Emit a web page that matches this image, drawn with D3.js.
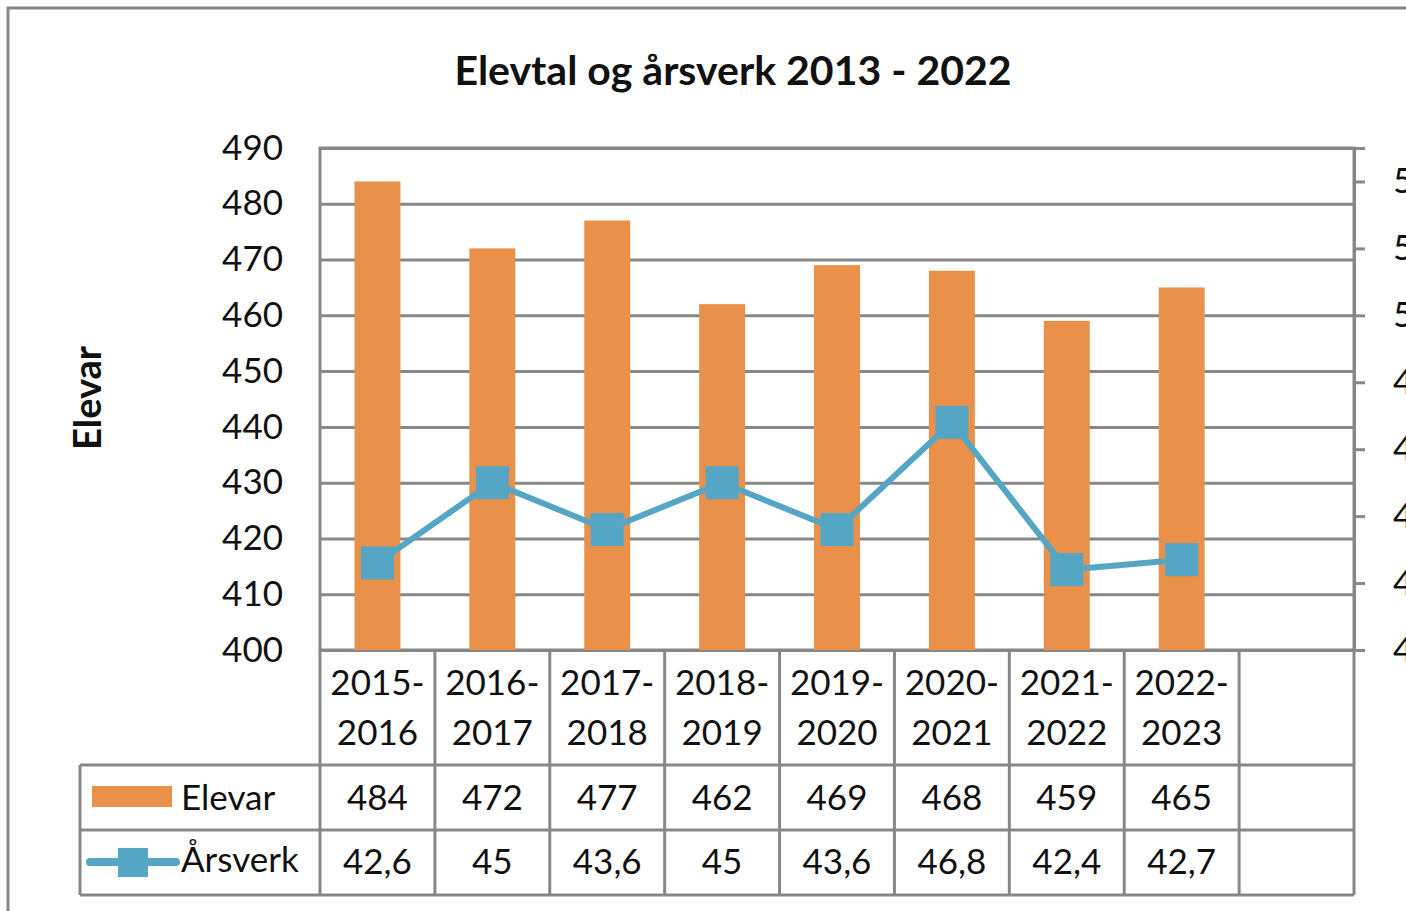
<!DOCTYPE html>
<html lang="nn">
<head>
<meta charset="UTF-8">
<title>Elevtal og årsverk 2013 - 2022</title>
<script src="https://cdn.jsdelivr.net/npm/d3@7"></script>
<style>
  html, body { margin: 0; padding: 0; background: #fff; overflow: hidden; }
  svg { display: block; font-family: Lato, "Open Sans", sans-serif; }
</style>
</head>
<body>
<script>
// chart data
const categories = ["2015-\n2016", "2016-\n2017", "2017-\n2018", "2018-\n2019", "2019-\n2020", "2020-\n2021", "2021-\n2022", "2022-\n2023", ""];
const elevar = [484, 472, 477, 462, 469, 468, 459, 465];
const arsverk = [42.6, 45, 43.6, 45, 43.6, 46.8, 42.4, 42.7];
const leftTicks = [400, 410, 420, 430, 440, 450, 460, 470, 480, 490];
const rightTicks = [40, 42, 44, 46, 48, 50, 52, 54];

const w = 1406, h = 911;
const plotL = 320, plotR = 1354, plotT = 148, plotB = 650;
const grey = "#878787";
const orange = "#E9904A";
const blue = "#55A6C4";

const svg = d3.select("body").append("svg")
  .attr("width", w)
  .attr("height", h);

// outer chart border (runs off the right and bottom edge)
svg.append("path")
  .attr("d", `M8,${h + 10} V8 H${w + 10}`)
  .attr("fill", "none")
  .attr("stroke", grey)
  .attr("stroke-width", 3);

// title
svg.append("text")
  .attr("x", 733)
  .attr("y", 85)
  .attr("text-anchor", "middle")
  .attr("font-size", 41)
  .attr("font-weight", "bold")
  .attr("fill", "#111")
  .text("Elevtal og årsverk 2013 - 2022");

// scales
const x = d3.scaleBand()
  .domain(d3.range(categories.length))
  .range([plotL, plotR]);

const y = d3.scaleLinear()
  .domain([400, 490])
  .range([plotB, plotT]);

const y2 = d3.scaleLinear()
  .domain([40, 55])
  .range([plotB, plotT]);

// gridlines
svg.append("g")
  .attr("transform", `translate(${plotL},0)`)
  .call(d3.axisLeft(y).tickValues(leftTicks).tickSize(-(plotR - plotL)).tickFormat(""))
  .call(g => g.select(".domain").remove())
  .call(g => g.selectAll("line").attr("stroke", grey).attr("stroke-width", 3));

// plot area frame
svg.append("rect")
  .attr("x", plotL)
  .attr("y", plotT)
  .attr("width", plotR - plotL)
  .attr("height", plotB - plotT)
  .attr("fill", "none")
  .attr("stroke", grey)
  .attr("stroke-width", 3);

// left axis labels
svg.append("g")
  .attr("transform", `translate(${plotL},0)`)
  .call(d3.axisLeft(y).tickValues(leftTicks).tickSize(0).tickPadding(37))
  .call(g => g.select(".domain").remove())
  .call(g => g.selectAll("text")
    .attr("font-family", "Lato, sans-serif")
    .attr("font-size", 35)
    .attr("fill", "#111"));

// right axis (labels run off the edge, as in the original)
svg.append("g")
  .attr("transform", `translate(${plotR},0)`)
  .call(d3.axisRight(y2).tickValues(rightTicks).tickSize(11).tickPadding(28))
  .call(g => g.select(".domain").attr("stroke", grey).attr("stroke-width", 3))
  .call(g => g.selectAll("line").attr("stroke", grey).attr("stroke-width", 3))
  .call(g => g.selectAll("text")
    .attr("font-family", "Lato, sans-serif")
    .attr("font-size", 35)
    .attr("fill", "#111"));

// y axis title
svg.append("text")
  .attr("transform", `translate(101,398) rotate(-90)`)
  .attr("text-anchor", "middle")
  .attr("font-size", 38)
  .attr("font-weight", "bold")
  .attr("fill", "#111")
  .text("Elevar");

// bars
const barW = x.bandwidth() * 0.4;
svg.selectAll("rect.bar")
  .data(elevar)
  .enter()
  .append("rect")
  .attr("class", "bar")
  .attr("x", (d, i) => x(i) + (x.bandwidth() - barW) / 2)
  .attr("y", d => y(d))
  .attr("width", barW)
  .attr("height", d => plotB - y(d))
  .attr("fill", orange);

// line + markers
const cx = i => x(i) + x.bandwidth() / 2;
svg.append("path")
  .datum(arsverk)
  .attr("d", d3.line().x((d, i) => cx(i)).y(d => y2(d)))
  .attr("fill", "none")
  .attr("stroke", blue)
  .attr("stroke-width", 6)
  .attr("stroke-linejoin", "round");

const mk = 33;
svg.selectAll("rect.marker")
  .data(arsverk)
  .enter()
  .append("rect")
  .attr("class", "marker")
  .attr("x", (d, i) => cx(i) - mk / 2)
  .attr("y", d => y2(d) - mk / 2)
  .attr("width", mk)
  .attr("height", mk)
  .attr("fill", blue);

// data table
const tableLeft = 80;
const row1 = 765, row2 = 830, row3 = 895;
const fmt = v => String(v).replace(".", ",");

const table = svg.append("g")
  .attr("stroke", grey)
  .attr("stroke-width", 3);

// vertical lines under the category boundaries
x.domain().concat([categories.length]).forEach(i => {
  const xx = i < categories.length ? x(i) : plotR;
  table.append("line")
    .attr("x1", xx).attr("x2", xx)
    .attr("y1", plotB).attr("y2", row3);
});
table.append("line").attr("x1", tableLeft).attr("x2", tableLeft).attr("y1", row1).attr("y2", row3);
[row1, row2, row3].forEach(r => {
  table.append("line").attr("x1", tableLeft).attr("x2", plotR).attr("y1", r).attr("y2", r);
});

const txt = svg.append("g")
  .attr("font-size", 35)
  .attr("fill", "#111")
  .attr("text-anchor", "middle");

// category labels on two lines
categories.forEach((c, i) => {
  c.split("\n").forEach((line, k) => {
    txt.append("text")
      .attr("x", cx(i))
      .attr("y", 683 + k * 50)
      .attr("dy", "0.35em")
      .text(line);
  });
});

elevar.forEach((v, i) => {
  txt.append("text")
    .attr("x", cx(i))
    .attr("y", 798)
    .attr("dy", "0.35em")
    .text(v);
});

arsverk.forEach((v, i) => {
  txt.append("text")
    .attr("x", cx(i))
    .attr("y", 862)
    .attr("dy", "0.35em")
    .text(fmt(v));
});

// legend keys in the table
svg.append("rect")
  .attr("x", 92).attr("y", 786)
  .attr("width", 80).attr("height", 21)
  .attr("fill", orange);

svg.append("line")
  .attr("x1", 90).attr("x2", 176)
  .attr("y1", 862).attr("y2", 862)
  .attr("stroke", blue)
  .attr("stroke-width", 8)
  .attr("stroke-linecap", "round");
svg.append("rect")
  .attr("x", 118).attr("y", 848)
  .attr("width", 30).attr("height", 29)
  .attr("fill", blue);

svg.append("text")
  .attr("x", 181).attr("y", 798).attr("dy", "0.35em")
  .attr("font-size", 35).attr("fill", "#111")
  .text("Elevar");
svg.append("text")
  .attr("x", 181).attr("y", 860).attr("dy", "0.35em")
  .attr("font-size", 35).attr("fill", "#111")
  .text("Årsverk");
</script>
</body>
</html>
